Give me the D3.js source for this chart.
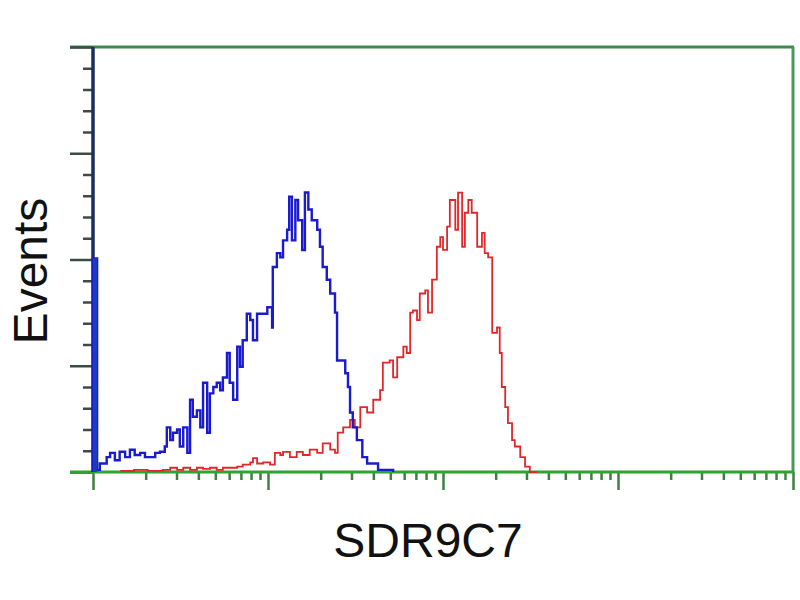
<!DOCTYPE html>
<html>
<head>
<meta charset="utf-8">
<script src="https://cdn.jsdelivr.net/npm/d3@7/dist/d3.min.js"></script>
<style>
  html, body { margin: 0; padding: 0; background: #ffffff; }
  svg { display: block; }
  text { font-family: "Liberation Sans", Arial, sans-serif; }
</style>
</head>
<body>
<svg id="chart" width="800" height="600"></svg>
<script>
// ---- data (channel 0..1024 on 4-decade log amplifier, event counts) ----
const blueChannels = [0,0,6,10,20,25,32,39,47,54,61,69,76,83,91,98,105,108,113,117,123,127,132,138,142,146,152,157,161,167,171,176,181,186,190,196,200,205,211,215,219,225,230,234,240,249,255,262,263,269,274,278,284,287,291,296,300,306,310,315,320,328,332,336,342,347,354,357,364,369,373,376,380,386,394,401,413,417,439];
const blueCounts   = [0,201,2,8,14,18,11,19,14,21,16,18,14,14,18,19,24,42,30,37,40,24,42,18,68,52,58,42,84,37,74,80,84,77,89,112,84,68,118,99,124,149,143,124,149,149,155,136,193,206,202,218,228,259,218,256,237,209,263,247,237,228,212,193,181,168,150,105,105,93,80,56,42,30,14,8,8,2,0];

const redChannels = [40,60,80,94,102,113,123,132,142,152,161,171,181,190,200,211,219,230,234,240,249,259,266,274,278,288,298,307,317,328,336,347,354,358,366,376,383,391,401,410,420,424,434,439,445,454,459,464,468,474,478,486,490,496,503,508,512,518,522,530,534,540,544,549,554,562,569,573,578,584,591,595,598,603,607,613,617,625,632,639,650];
const redCounts   = [1,2,1,1,2,4,2,4,2,4,3,4,2,4,4,5,7,9,13,8,9,7,18,16,19,14,19,16,21,18,27,21,18,37,42,49,42,61,56,68,77,103,105,89,108,118,112,150,152,143,168,171,150,181,212,221,209,231,256,228,263,212,244,256,244,212,225,206,202,131,136,112,80,61,46,30,24,14,5,0,0];

// axis tick values (no labels shown)
const xMajorTicks = [1, 10, 100, 1000, 10000];
const xMinorMultipliers = [2, 3, 4, 5, 6, 7, 8, 9];
const yMajorTicks = [0, 100, 200, 300, 400];
const yMinorTicks = [20,40,60,80,120,140,160,180,220,240,260,280,320,340,360,380];

const xLabel = "SDR9C7";
const yLabel = "Events";

(function () {
// ---- layout ----
const svg = d3.select("#chart");
const pL = 93, pR = 793, pT = 47, pB = 472;

const xChan = d3.scaleLinear().domain([0, 1024]).range([pL, pR]);
const xLog = d3.scaleLog().domain([1, 10000]).range([pL, pR]);
const y = d3.scaleLinear().domain([0, 400]).range([pB, pT]);

const xMinorTicks = [];
xMajorTicks.slice(0, -1).forEach(d => xMinorMultipliers.forEach(m => xMinorTicks.push(d * m)));

// frame: top and right borders
svg.append("line").attr("x1", 70).attr("x2", pR + 1).attr("y1", pT).attr("y2", pT)
  .attr("stroke", "#3f8a4c").attr("stroke-width", 3);
svg.append("line").attr("x1", pR).attr("x2", pR).attr("y1", pT).attr("y2", pB)
  .attr("stroke", "#4a9a58").attr("stroke-width", 3);

// y axis ticks
const yMajorAxis = d3.axisLeft(y).tickValues(yMajorTicks).tickSize(23).tickFormat("");
const yMinorAxis = d3.axisLeft(y).tickValues(yMinorTicks).tickSize(10).tickFormat("");
[yMajorAxis, yMinorAxis].forEach(ax => {
  const g = svg.append("g").attr("transform", `translate(${pL},0)`).call(ax);
  g.select(".domain").remove();
  g.selectAll(".tick line").attr("stroke", "#3c4c44").attr("stroke-width", 2.5);
});

// x axis ticks
const xMajorAxis = d3.axisBottom(xLog).tickValues(xMajorTicks).tickSize(18).tickFormat("");
const xMinorAxis = d3.axisBottom(xLog).tickValues(xMinorTicks).tickSize(8).tickFormat("");
[xMajorAxis, xMinorAxis].forEach(ax => {
  const g = svg.append("g").attr("transform", `translate(0,${pB})`).call(ax);
  g.select(".domain").remove();
  g.selectAll(".tick line").attr("stroke", "#3f7f45").attr("stroke-width", 2.5);
});

// bottom axis line
svg.append("line").attr("x1", 70).attr("x2", pR + 1).attr("y1", pB).attr("y2", pB)
  .attr("stroke", "#2ea32e").attr("stroke-width", 3);

// left axis line (dark)
svg.append("line").attr("x1", pL).attr("x2", pL).attr("y1", pT).attr("y2", pB)
  .attr("stroke", "#1b2f5e").attr("stroke-width", 3.5);

// histograms
const line = d3.line().curve(d3.curveStepAfter)
  .x(d => xChan(d[0])).y(d => y(d[1]));

const redData = redChannels.map((c, i) => [c, redCounts[i]]);
const blueData = blueChannels.map((c, i) => [c, blueCounts[i]]);

svg.append("path").datum(redData).attr("d", line)
  .attr("fill", "none").attr("stroke", "#e3262a").attr("stroke-width", 1.8)
  .attr("stroke-linejoin", "miter");
svg.append("path").datum(blueData).attr("d", line)
  .attr("fill", "none").attr("stroke", "#1a1ad0").attr("stroke-width", 2.4)
  .attr("stroke-linejoin", "miter");
// filled first-channel spike
svg.append("rect")
  .attr("x", xChan(blueChannels[1])).attr("width", xChan(blueChannels[2]) - xChan(blueChannels[1]))
  .attr("y", y(blueCounts[1])).attr("height", y(0) - y(blueCounts[1]))
  .attr("fill", "#1a3fb8");

// labels
svg.append("text").attr("x", 428).attr("y", 557).attr("text-anchor", "middle")
  .attr("font-size", 48).attr("fill", "#111").text(xLabel);
svg.append("text").attr("transform", "translate(47,271) rotate(-90)").attr("text-anchor", "middle")
  .attr("font-size", 48).attr("fill", "#111").text(yLabel);
})();
</script>
</body>
</html>
